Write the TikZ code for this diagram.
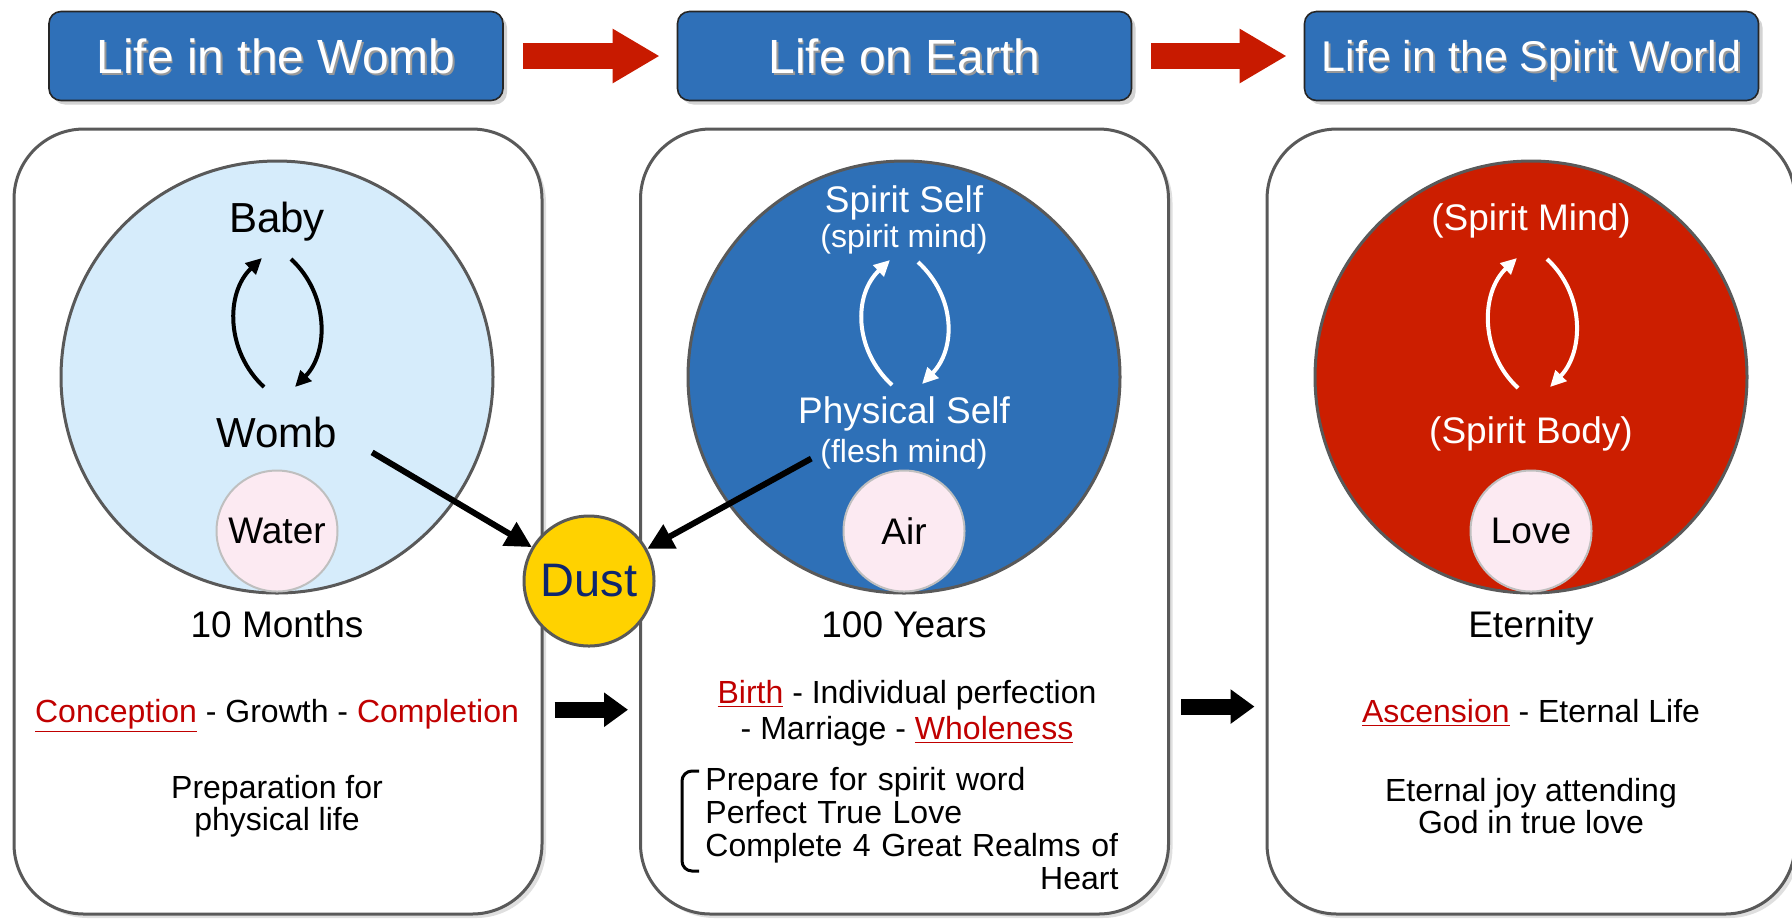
\documentclass[tikz,border=0pt]{standalone}
\usepackage{fontspec}
\setmainfont{Liberation Sans}
\usepackage{xcolor}
\usepackage{tikz}
\usetikzlibrary{positioning,shapes,arrows.meta,shadows}
\definecolor{hdrblue}{RGB}{47,112,184}
\definecolor{wombblue}{RGB}{214,236,251}
\definecolor{earthblue}{RGB}{46,112,183}
\definecolor{spiritred}{RGB}{204,30,0}
\definecolor{pinkfill}{RGB}{252,234,242}
\definecolor{dustyellow}{RGB}{255,210,0}
\definecolor{dustnavy}{RGB}{13,38,110}
\definecolor{txtred}{RGB}{192,0,0}
\definecolor{arrowred}{RGB}{200,26,0}
\definecolor{edgegray}{RGB}{89,89,89}
\newcommand{\hl}[1]{\textcolor{txtred}{\underline{#1}}}
\newcommand{\shtxt}[1]{\rlap{\kern0.9pt\raisebox{-0.9pt}{\textcolor{black!40}{#1}}}#1}

\begin{document}
\begin{tikzpicture}[
    x=0.5pt, y=-0.5pt,
    header/.style={draw=black!85, line width=0.8pt, rounded corners=6pt, fill=hdrblue, text=white, minimum width=227pt, minimum height=44.5pt, inner sep=0pt, text height=17.2pt, text depth=0pt, drop shadow={opacity=0.35, shadow xshift=2pt, shadow yshift=-2pt}, font=\fontsize{24}{28}\selectfont},
    stage/.style={draw=edgegray, line width=1.5pt, rounded corners=35pt, fill=white, minimum width=264pt, minimum height=392.5pt, drop shadow={opacity=0.25, shadow xshift=2pt, shadow yshift=-2pt}},
    world/.style={circle, draw=edgegray, line width=1.5pt, minimum size=216pt, inner sep=0pt},
    elem/.style={circle, draw=black!25, line width=1pt, fill=pinkfill, minimum size=60.5pt, inner sep=0pt, font=\fontsize{18.5}{22}\selectfont},
    bigtxt/.style={anchor=base, inner sep=0pt, font=\fontsize{21}{25}\selectfont},
    midtxt/.style={anchor=base, inner sep=0pt, font=\fontsize{18.5}{22}\selectfont},
    smalltxt/.style={anchor=base, inner sep=0pt, font=\fontsize{16}{19}\selectfont},
    cyc/.style={line width=2pt, -{Triangle[length=8pt, width=7.5pt]}},
    feed/.style={line width=3pt, -{Triangle[length=13pt, width=13pt]}},
    flow/.style={draw=arrowred, line width=13pt, shorten <=9.5pt, shorten >=8.5pt, -{Triangle[length=23.5pt, width=25.5pt]}},
    blockarrow/.style={draw=black, line width=8pt, shorten <=5.5pt, shorten >=5.5pt, -{Triangle[length=12pt, width=16.5pt]}}
]
    \useasboundingbox (0,0) rectangle (1792,918);

    % Headers
    \node[header] (hwomb) at (276,56) {\shtxt{Life in the Womb}};
    \node[header] (hearth) at (904.5,56) {\shtxt{Life on Earth}};
    \node[header, font=\fontsize{21.5}{26}\selectfont, text height=15.4pt] (hspirit) at (1531.5,56) {\shtxt{Life in the Spirit World}};

    % Stages
    \node[stage] (swomb) at (278,521.5) {};
    \node[stage] (searth) at (904.5,521.5) {};
    \node[stage] (sspirit) at (1531,521.5) {};

    % Worlds
    \node[world, fill=wombblue] (cwomb) at (277,377) {};
    \node[world, fill=earthblue] (cearth) at (904,377) {};
    \node[world, fill=spiritred] (cspirit) at (1531,377) {};

    \node[elem] (water) at (277,531) {Water};
    \node[elem] (air) at (904,531) {Air};
    \node[elem] (love) at (1531,531) {Love};

    \node[circle, draw=edgegray, line width=1.5pt, fill=dustyellow, minimum size=65pt, inner sep=0pt, text=dustnavy, font=\fontsize{23.5}{28}\selectfont] (dust) at (589,581) {Dust};

    % Inside the worlds
    \node[bigtxt] (baby) at (277,232) {Baby};
    \node[bigtxt] (womb) at (277,447) {Womb};
    \node[midtxt, text=white] (sself) at (904,212) {Spirit Self};
    \node[smalltxt, text=white] (smind) at (904,247) {(spirit mind)};
    \node[midtxt, text=white] (pself) at (904,423) {Physical Self};
    \node[smalltxt, text=white] (fmind) at (904,462) {(flesh mind)};
    \node[midtxt, text=white] (spmind) at (1531,230) {(Spirit Mind)};
    \node[midtxt, text=white] (spbody) at (1531,443) {(Spirit Body)};

    % Below the worlds
    \node[midtxt] (tmonths) at (277,637) {10 Months};
    \node[midtxt] (tyears) at (904,637) {100 Years};
    \node[midtxt] (teternity) at (1531,637) {Eternity};

    \node[smalltxt] (conc) at (277,722) {\hl{Conception} - Growth - \textcolor{txtred}{Completion}};
    \node[smalltxt, anchor=center, align=center, font=\fontsize{16}{18}\selectfont] (birth) at (907,713) {\hl{Birth} - Individual perfection\\- Marriage - \hl{Wholeness}};
    \node[smalltxt] (asc) at (1531,722) {\hl{Ascension} - Eternal Life};

    \node[smalltxt, anchor=center, align=center, font=\fontsize{16}{16}\selectfont] (prep) at (277,806) {Preparation for\\physical life};
    \node[smalltxt, anchor=north west, align=left, text width=206.5pt, font=\fontsize{16}{16.5}\selectfont] (goals) at (705,767) {Prepare for spirit word\\Perfect True Love\\Complete 4 Great Realms of\\\hspace*{\fill}Heart};
    \node[smalltxt, anchor=center, align=center, font=\fontsize{16}{16}\selectfont] (joy) at (1531,806) {Eternal joy attending\\God in true love};

    \draw[line width=1.5pt, rounded corners=5pt] ([shift={(-6,4)}]goals.north west) -- ++(-17,0) -- ++(0,100) -- ++(17,0);

    % Connections
    \draw[flow] (hwomb) -- (hearth);
    \draw[flow] (hearth) -- (hspirit);
    \draw[blockarrow] ([yshift=3pt]swomb.east |- conc) -- ([yshift=3pt]searth.west |- conc);
    \draw[blockarrow] ([yshift=3pt]searth.east |- asc) -- ([yshift=3pt]sspirit.west |- asc);

    \draw[cyc] ([shift={(-13,-60)}]womb.base) .. controls +(-38,-35) and +(-37,35) .. ([shift={(-15,26)}]baby.base);
    \draw[cyc] ([shift={(14,27)}]baby.base) .. controls +(38,35) and +(34,-35) .. ([shift={(18,-60)}]womb.base);
    \draw[cyc, white] ([shift={(-12,-38)}]pself.base) .. controls +(-38,-35) and +(-37,35) .. ([shift={(-14,13)}]smind.base);
    \draw[cyc, white] ([shift={(14,15)}]smind.base) .. controls +(38,35) and +(34,-35) .. ([shift={(18,-39)}]pself.base);
    \draw[cyc, white] ([shift={(-13,-55)}]spbody.base) .. controls +(-38,-35) and +(-37,35) .. ([shift={(-14,28)}]spmind.base);
    \draw[cyc, white] ([shift={(16,29)}]spmind.base) .. controls +(38,35) and +(34,-35) .. ([shift={(19,-56)}]spbody.base);

    \draw[feed, shorten <=20pt] (womb.east) -- (dust);
    \draw[feed, shorten <=5pt] (fmind.west) -- (dust);
\end{tikzpicture}
\end{document}
